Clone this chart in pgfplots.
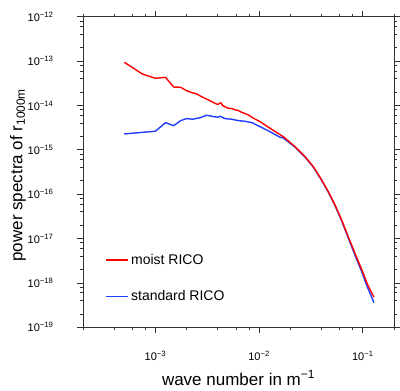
\documentclass[border=0pt]{standalone}
\usepackage{pgfplots}
\pgfplotsset{compat=1.18}
\usepackage{fontspec}
\setmainfont{Liberation Sans}
\definecolor{myblue}{rgb}{0.12,0.24,1.0}
\newcommand{\sups}[1]{\textsuperscript{#1}}
\begin{document}
\begin{tikzpicture}
\begin{axis}[
  xmode=log, ymode=log,
  scale only axis,
  width=311pt, height=310.6pt,
  xmin=2e-4, xmax=0.2,
  ymin=1e-19, ymax=1e-12,
  axis line style={line width=0.9pt, black!80},
  tick align=outside,
  tick style={black!80, line width=0.8pt},
  major tick length=6pt, minor tick length=3pt,
  xtick={1e-3,1e-2,1e-1},
  xticklabels={10\sups{−3},10\sups{−2},10\sups{−1}},
  minor xtick={2e-4,4e-4,6e-4,8e-4,2e-3,4e-3,6e-3,8e-3,2e-2,4e-2,6e-2,8e-2,2e-1},
  ytick={1e-19,1e-18,1e-17,1e-16,1e-15,1e-14,1e-13,1e-12},
  yticklabels={10\sups{−19},10\sups{−18},10\sups{−17},10\sups{−16},10\sups{−15},10\sups{−14},10\sups{−13},10\sups{−12}},
  minor ytick={2e-19,4e-19,6e-19,8e-19,2e-18,4e-18,6e-18,8e-18,2e-17,4e-17,6e-17,8e-17,2e-16,4e-16,6e-16,8e-16,2e-15,4e-15,6e-15,8e-15,2e-14,4e-14,6e-14,8e-14,2e-13,4e-13,6e-13,8e-13},
  ticklabel style={font=\fontsize{11}{12}\selectfont},
  xticklabel style={yshift=-14pt},
  yticklabel style={xshift=-20pt},
  xlabel={wave number in m\sups{−1}},
  ylabel={power spectra of r\textsubscript{1000m}},
  label style={font=\fontsize{17}{19}\selectfont},
  xlabel style={at={(axis description cs:0.5,-0.163)}, anchor=center},
  ylabel style={at={(axis description cs:-0.209,0.49)}, anchor=center},
  reverse legend,
  legend style={draw=none, fill=none, at={(axis cs:3.3e-4,1.27e-18)}, anchor=west,
    font=\fontsize{14}{16}\selectfont, row sep=21pt, inner sep=0pt,
    nodes={inner sep=2pt}},
  legend cell align=left,
  legend image code/.code={\draw[#1, line width=1.4pt] (0pt,0pt) -- (22pt,0pt);},
]
\addplot[myblue, line width=1.4pt] coordinates {
(5e-4,2.28e-15) (1e-3,2.63e-15) (1.25e-3,4.1e-15) (1.5e-3,3.5e-15) (1.75e-3,4.55e-15)
(2e-3,5.05e-15) (2.3e-3,4.9e-15) (2.7e-3,5.3e-15) (3.1e-3,6.0e-15) (3.4e-3,5.8e-15)
(3.6e-3,5.6e-15) (4.0e-3,5.45e-15) (4.2e-3,5.7e-15) (4.7e-3,5.05e-15) (5.4e-3,4.9e-15)
(6.3e-3,4.55e-15) (7.3e-3,4.4e-15) (8.5e-3,4.1e-15) (1.02e-2,3.33e-15) (1.27e-2,2.57e-15)
(1.59e-2,1.92e-15) (1.71e-2,1.85e-15) (2.22e-2,1.15e-15) (2.77e-2,6.85e-16) (3.33e-2,4.08e-16)
(4.01e-2,2.04e-16) (4.64e-2,1.12e-16) (5.39e-2,5.55e-17) (6.25e-2,2.52e-17) (7.23e-2,1.04e-17)
(8.39e-2,4.3e-18) (9.8e-2,1.75e-18) (0.1107,8.1e-19) (0.128,3.6e-19)
};
\addlegendentry{standard RICO}
\addplot[red, line width=1.4pt] coordinates {
(5e-4,9.4e-14) (7.5e-4,5.1e-14) (1e-3,4.1e-14) (1.25e-3,4.3e-14) (1.5e-3,2.6e-14)
(1.75e-3,2.57e-14) (2e-3,2.15e-14) (2.25e-3,1.94e-14) (2.5e-3,1.82e-14) (2.75e-3,1.6e-14)
(3.25e-3,1.33e-14) (3.75e-3,1.12e-14) (4e-3,1.05e-14) (4.25e-3,1.15e-14) (4.5e-3,9.8e-15)
(5e-3,8.7e-15) (5.5e-3,8.5e-15) (5.9e-3,7.9e-15) (6.2e-3,7.8e-15) (6.8e-3,7.0e-15)
(7.9e-3,6.1e-15) (8.8e-3,5.15e-15) (1.02e-2,4.32e-15) (1.274e-2,3.06e-15) (1.71e-2,1.98e-15)
(2.22e-2,1.18e-15) (2.77e-2,7.03e-16) (3.33e-2,4.19e-16) (4.01e-2,2.10e-16) (4.64e-2,1.15e-16)
(5.39e-2,5.74e-17) (6.25e-2,2.64e-17) (7.23e-2,1.11e-17) (8.39e-2,4.69e-18) (9.8e-2,1.97e-18)
(0.1107,9.4e-19) (0.128,4.79e-19)
};
\addlegendentry{moist RICO}
\end{axis}
\pgfresetboundingbox
\useasboundingbox ([xshift=-83pt,yshift=-62.7pt]current axis.south west) rectangle ([xshift=6pt,yshift=16.7pt]current axis.north east);
\end{tikzpicture}
\end{document}
